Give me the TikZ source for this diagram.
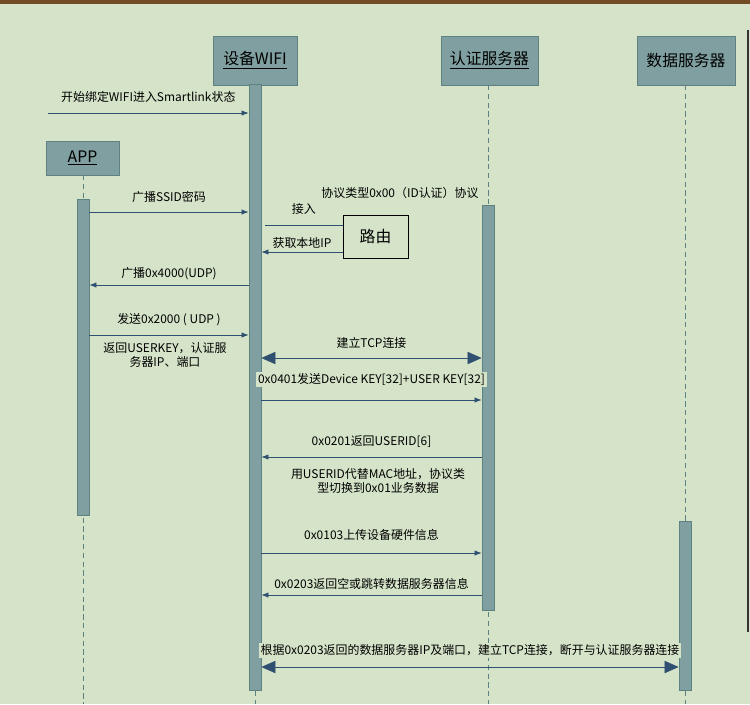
\documentclass[tikz,border=0pt]{standalone}
\usepackage{fontspec}
\setmainfont{Noto Sans CJK SC}
\usetikzlibrary{arrows.meta}
\definecolor{bg}{HTML}{D5E4C9}
\definecolor{boxfill}{HTML}{7F9FA0}
\definecolor{boxline}{HTML}{5E8282}
\definecolor{msg}{HTML}{2F5070}
\begin{document}
\begin{tikzpicture}[x=0.02cm, y=-0.02cm,
    head/.style={rectangle, draw=boxline, fill=boxfill, inner sep=0pt, font=\fontsize{9}{10}\selectfont},
    bar/.style={rectangle, draw=boxline, fill=boxfill, inner sep=0pt, minimum width=0.24cm},
    life/.style={draw=boxline, densely dashed, thin},
    call/.style={draw=msg, thin, -{Latex[length=4pt,width=3pt]}},
    both/.style={draw=msg, thin, {Triangle[length=8pt,width=7pt]}-{Triangle[length=8pt,width=7pt]}},
    lbl/.style={font=\fontsize{6.8}{8}\selectfont, inner sep=1pt}]
    \fill [bg] (0,0) rectangle (750,704);
    \fill [brown!60!black] (0,0) rectangle (750,4);
    \draw [black!80, line width=1.2pt] (748,30) -- (748,632);
    % lifelines
    \draw [life] (255,85) -- (255,704);
    \draw [life] (488,85) -- (488,704);
    \draw [life] (685,85) -- (685,704);
    \draw [life] (83,175) -- (83,704);
    % headers
    \node [head, minimum width=1.68cm, minimum height=0.98cm] (wifi) at (255,60.5) {\underline{设备WIFI}};
    \node [head, minimum width=1.94cm, minimum height=0.98cm] (auth) at (489.5,60.5) {\underline{认证服务器}};
    \node [head, minimum width=1.96cm, minimum height=0.98cm] (data) at (686,60.5) {数据服务器};
    \node [head, minimum width=1.46cm, minimum height=0.68cm] (app) at (82.5,158) {\underline{APP}};
    % activation bars
    \node [bar, minimum height=12.12cm] (wifibar) at (255,387) {};
    \node [bar, minimum height=6.32cm] (appbar) at (83,357) {};
    \node [bar, minimum height=8.1cm] (authbar) at (488,407.5) {};
    \node [bar, minimum height=3.38cm] (databar) at (685,605.5) {};
    \node [draw=black, fill=bg, minimum width=1.3cm, minimum height=0.86cm, font=\fontsize{9}{10}\selectfont] (router) at (375.5,236.5) {路由};
    % end points
    \coordinate (start) at (48,113);
    \coordinate (link) at (265,225);
    % messages
    \draw [call] (start) -- (wifibar.west |- start) node [lbl, midway, above=5pt] {开始绑定WIFI进入Smartlink状态};
    \draw [call] (appbar.east |- 0,212) -- (wifibar.west |- 0,212) node [lbl, midway, above=4pt] {广播SSID密码};
    \draw [draw=msg, thin] (link) -- (router.west |- link) node [lbl, midway, above=5pt] {接入};
    \node [lbl, anchor=south] at (400,201) {协议类型0x00（ID认证）协议};
    \draw [call] (router.west |- 0,252) -- (wifibar.east |- 0,252) node [lbl, midway, above=1pt] {获取本地IP};
    \draw [call] (wifibar.west |- 0,285) -- (appbar.east |- 0,285) node [lbl, midway, above=2pt] {广播0x4000(UDP)};
    \draw [call] (appbar.east |- 0,335) -- (wifibar.west |- 0,335) node [lbl, midway, above=4pt] {发送0x2000 ( UDP )};
    \node [lbl, align=center] at (165,355) {返回USERKEY，认证服\\务器IP、端口};
    \draw [both] (wifibar.east |- 0,358) -- (authbar.west |- 0,358) node [lbl, midway, above=4pt] {建立TCP连接};
    \draw [call] (wifibar.east |- 0,400) -- (authbar.west |- 0,400) node [lbl, midway, above=7pt, fill=bg] {0x0401发送Device KEY[32]+USER KEY[32]};
    \draw [call] (authbar.west |- 0,457) -- (wifibar.east |- 0,457) node [lbl, midway, above=4pt] {0x0201返回USERID[6]};
    \node [lbl, align=center] at (378,481) {用USERID代替MAC地址，协议类\\型切换到0x01业务数据};
    \draw [call] (wifibar.east |- 0,553) -- (authbar.west |- 0,553) node [lbl, midway, above=6pt] {0x0103上传设备硬件信息};
    \draw [call] (authbar.west |- 0,595) -- (wifibar.east |- 0,595) node [lbl, midway, above=2pt] {0x0203返回空或跳转数据服务器信息};
    \draw [both] (wifibar.east |- 0,667) -- (databar.west |- 0,667) node [lbl, midway, above=5pt, fill=bg] {根据0x0203返回的数据服务器IP及端口，建立TCP连接，断开与认证服务器连接};
\end{tikzpicture}
\end{document}
